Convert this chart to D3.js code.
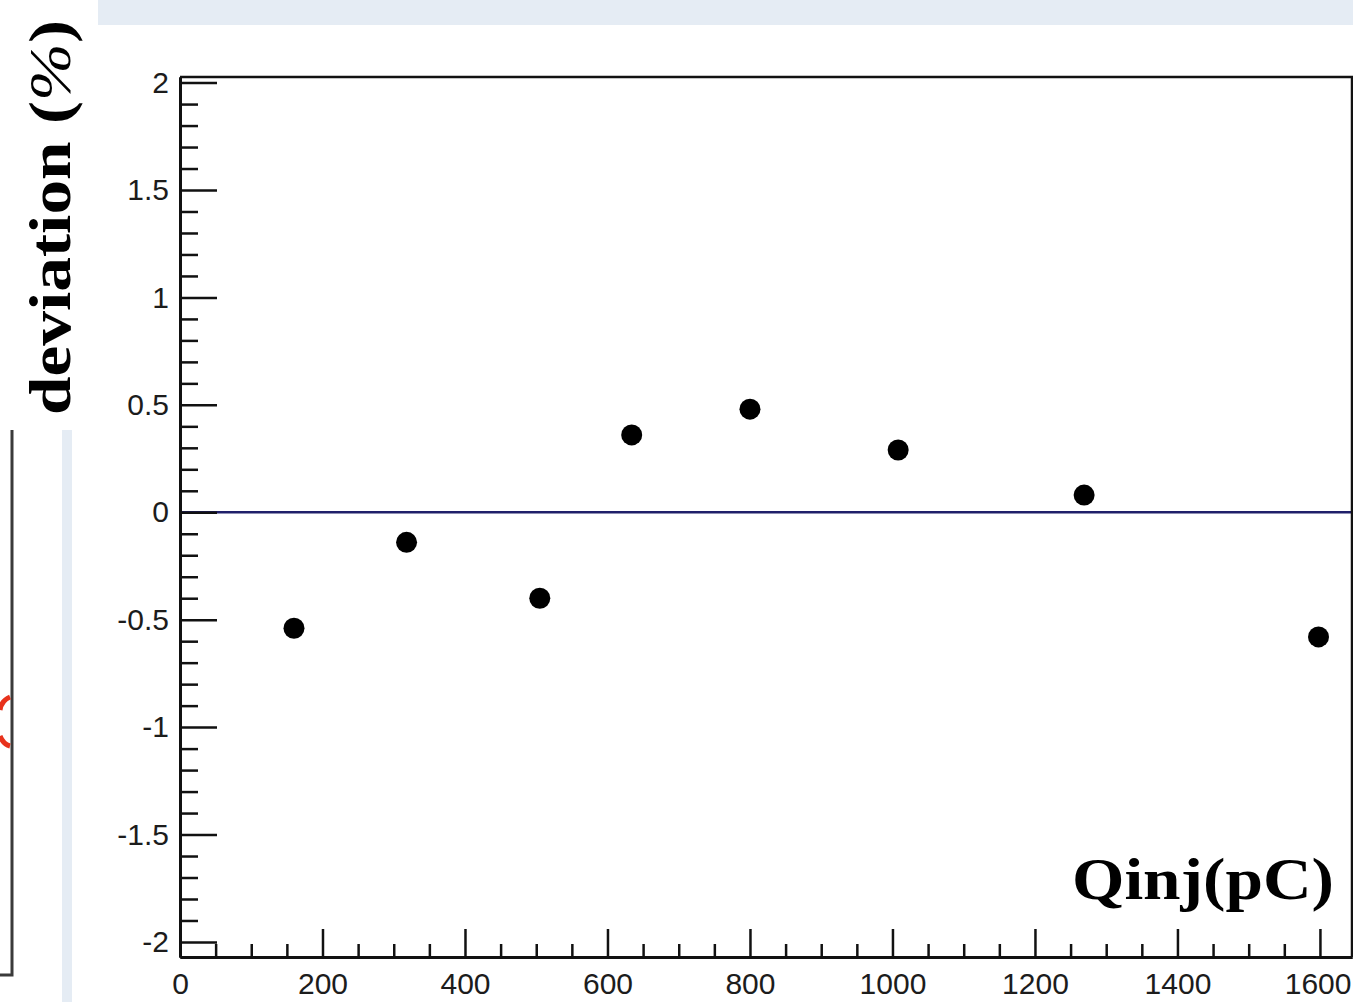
<!DOCTYPE html>
<html>
<head>
<meta charset="utf-8">
<script src="https://cdn.jsdelivr.net/npm/d3@7"></script>
<style>
  html, body { margin: 0; padding: 0; background: #fff; overflow: hidden; }
  svg { display: block; }
</style>
</head>
<body>
<svg id="chart" width="1353" height="1002"></svg>
<script>
// Injected charge (pC) and relative deviation from the linear fit (%)
const qinj = [160, 318, 505, 634, 800, 1008, 1269, 1598];
const deviation = [-0.54, -0.14, -0.40, 0.36, 0.48, 0.29, 0.08, -0.58];

// Axis ticks and labels
const xTickValues = [0, 200, 400, 600, 800, 1000, 1200, 1400, 1600];
const xTickLabels = ["0", "200", "400", "600", "800", "1000", "1200", "1400", "1600"];
const yTickValues = [-2, -1.5, -1, -0.5, 0, 0.5, 1, 1.5, 2];
const yTickLabels = ["-2", "-1.5", "-1", "-0.5", "0", "0.5", "1", "1.5", "2"];
const xMinorStep = 50;
const yMinorStep = 0.1;

const xTitle = "Qinj(pC)";
const yTitleWord = "deviation ";
const yTitleUnit = ["(", "%", ")"];

const svg = d3.select("#chart");
const W = 1353, H = 1002;

svg.append("rect").attr("width", W).attr("height", H).attr("fill", "#fff");

// Slide background pieces around the plot
const slideBlue = "#e5ecf4";
svg.append("rect").attr("x", 98).attr("y", 0).attr("width", W - 98).attr("height", 25).attr("fill", slideBlue);
svg.append("rect").attr("x", 62).attr("y", 430).attr("width", 10).attr("height", H - 430).attr("fill", slideBlue);

// Edge of the neighbouring panel on the left
svg.append("path")
  .attr("d", "M12,430 L12,975 L0,975")
  .attr("fill", "none").attr("stroke", "#3a3a3a").attr("stroke-width", 3);
svg.append("path")
  .attr("d", "M10,697 C5,699 1,704 0,710 M0,736 C2,741 6,745 10,746")
  .attr("fill", "none").attr("stroke", "#e8321c").attr("stroke-width", 5);

// Scales
const x = d3.scaleLinear().domain([0, 1645]).range([180, 1352]);
const y = d3.scaleLinear().domain([-2.07, 2.026]).range([957, 77]);

const xMinor = d3.range(0, 1645, xMinorStep).filter(v => xTickValues.indexOf(v) < 0);
const yMinor = d3.range(-20, 21).map(i => +(i * yMinorStep).toFixed(1))
  .filter(v => yTickValues.indexOf(v) < 0);

const labelFont = "'Liberation Sans', Arial, sans-serif";
const axisStroke = "#111";

// Zero reference line
svg.append("line")
  .attr("x1", x(0)).attr("x2", x.range()[1])
  .attr("y1", y(0)).attr("y2", y(0))
  .attr("stroke", "#20206a").attr("stroke-width", 2.5);

// Frame top and right
svg.append("path")
  .attr("d", `M${x(0)},${y.range()[1]} L${x.range()[1]},${y.range()[1]} L${x.range()[1]},${y.range()[0]}`)
  .attr("fill", "none").attr("stroke", axisStroke).attr("stroke-width", 2.5);

// Y axis: minor then major ticks pointing into the frame
const yMinorAxis = d3.axisLeft(y).tickValues(yMinor).tickSizeInner(-18).tickSizeOuter(0).tickFormat("");
const yMajorAxis = d3.axisLeft(y).tickValues(yTickValues).tickSizeInner(-37).tickSizeOuter(0)
  .tickPadding(11).tickFormat((d, i) => yTickLabels[i]);

const gyMinor = svg.append("g").attr("transform", `translate(${x(0)},0)`).call(yMinorAxis);
const gy = svg.append("g").attr("transform", `translate(${x(0)},0)`).call(yMajorAxis);

// X axis
const xMinorAxis = d3.axisBottom(x).tickValues(xMinor).tickSizeInner(-13).tickSizeOuter(0).tickFormat("");
const xMajorAxis = d3.axisBottom(x).tickValues(xTickValues).tickSizeInner(-28).tickSizeOuter(0)
  .tickPadding(16).tickFormat((d, i) => xTickLabels[i]);

const gxMinor = svg.append("g").attr("transform", `translate(0,${y.range()[0]})`).call(xMinorAxis);
const gx = svg.append("g").attr("transform", `translate(0,${y.range()[0]})`).call(xMajorAxis);

[gyMinor, gy, gxMinor, gx].forEach(g => {
  g.selectAll("path.domain").attr("stroke", axisStroke).attr("stroke-width", 3);
  g.selectAll(".tick line").attr("stroke", axisStroke).attr("stroke-width", 2.5);
  g.selectAll("text").attr("font-family", labelFont).attr("font-size", 30).attr("fill", "#1c1c1c");
});
// The last x label sits flush against the right edge
gx.selectAll(".tick text").filter(d => d === 1600).attr("text-anchor", "end").attr("x", 1351 - x(1600));

// Data points
svg.append("g").selectAll("circle")
  .data(qinj.map((q, i) => ({ q, d: deviation[i] })))
  .join("circle")
  .attr("cx", d => x(d.q))
  .attr("cy", d => y(d.d))
  .attr("r", 10.5)
  .attr("fill", "#000");

// Axis titles
const titleFont = "'Liberation Serif', 'DejaVu Serif', serif";
const yt = svg.append("text")
  .attr("transform", "translate(70,415) rotate(-90)")
  .attr("font-family", titleFont).attr("font-weight", "bold").attr("font-size", 60)
  .attr("textLength", 395).attr("lengthAdjust", "spacingAndGlyphs")
  .attr("fill", "#000");
yt.append("tspan").text(yTitleWord + yTitleUnit[0]);
yt.append("tspan").attr("font-style", "italic").attr("font-weight", "normal").text(yTitleUnit[1]);
yt.append("tspan").text(yTitleUnit[2]);

svg.append("text")
  .attr("x", 1072).attr("y", 899)
  .attr("font-family", titleFont).attr("font-weight", "bold").attr("font-size", 60)
  .attr("textLength", 262).attr("lengthAdjust", "spacingAndGlyphs")
  .attr("fill", "#000")
  .text(xTitle);
</script>
</body>
</html>
